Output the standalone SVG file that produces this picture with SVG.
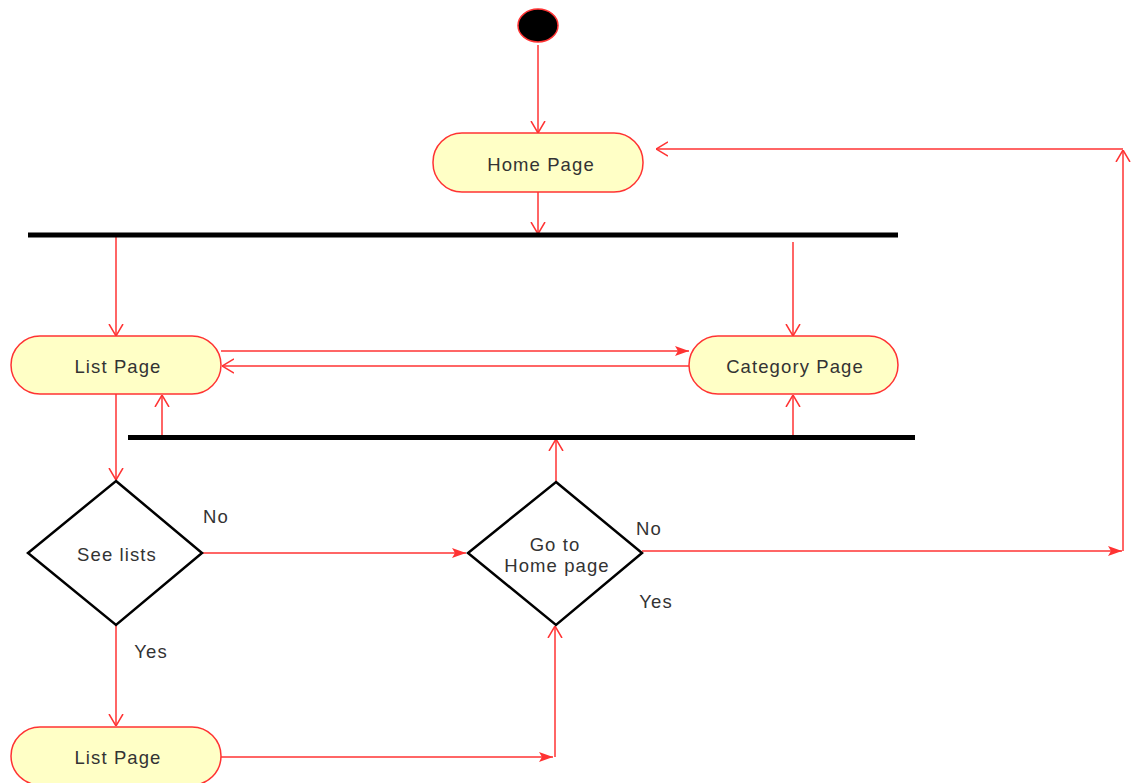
<svg xmlns="http://www.w3.org/2000/svg" width="1133" height="783" viewBox="0 0 1133 783">
<defs>
<style>
.node{fill:#ffffc6;stroke:#ff3333;stroke-width:1.5}
.dec{fill:#ffffff;stroke:#000000;stroke-width:2.5}
.bar{fill:#000000}
.lbl{font-family:"Liberation Sans",Arial,sans-serif;font-size:18.5px;letter-spacing:1.1px;fill:#333333;text-anchor:middle}
.e{fill:none;stroke:#ff3333;stroke-width:1.5}
.o{marker-end:url(#open)}
.f{marker-end:url(#fill)}
</style>
<marker id="open" viewBox="0 0 12 16" refX="12" refY="8" markerWidth="12" markerHeight="16" markerUnits="userSpaceOnUse" orient="auto">
<path d="M0,1 L12,8 L0,15" fill="none" stroke="#ff3333" stroke-width="1.5"/>
</marker>
<marker id="fill" viewBox="0 0 14 10" refX="14" refY="5" markerWidth="14" markerHeight="10" markerUnits="userSpaceOnUse" orient="auto">
<path d="M0,0 L14,5 L0,10 L3,5 Z" fill="#ff3333"/>
</marker>
</defs>
<rect width="1133" height="783" fill="#ffffff"/>
<g id="connectors">
<path class="e o" d="M538,45 L538,133"/>
<path class="e o" d="M538,192 L538,234"/>
<path class="e o" d="M116,236 L116,336"/>
<path class="e o" d="M793,242 L793,336"/>
<path class="e f" d="M221,351 L689,351"/>
<path class="e o" d="M689,366 L222,366"/>
<path class="e o" d="M162,436 L162,395"/>
<path class="e o" d="M793,436 L793,395"/>
<path class="e o" d="M116,394 L116,480"/>
<path class="e f" d="M202,553 L466,553"/>
<path class="e o" d="M556,482 L556,439"/>
<path class="e f" d="M642,551 L1122,551"/>
<path class="e o" d="M1123,551 L1123,150"/>
<path class="e o" d="M1123,149 L656,149"/>
<path class="e o" d="M116,625 L116,726"/>
<path class="e f" d="M221,757 L553,757"/>
<path class="e o" d="M555,757 L555,626"/>
</g>
<g id="start">
<ellipse cx="538" cy="25.5" rx="20" ry="16.5" fill="#000000" stroke="#ff3333" stroke-width="1.5"/>
</g>
<g id="home">
<rect class="node" x="433" y="133" width="210" height="59" rx="29"/>
<text class="lbl" x="541" y="171">Home Page</text>
</g>
<g id="fork1">
<rect class="bar" x="28" y="232.5" width="870" height="5"/>
</g>
<g id="list1">
<rect class="node" x="11" y="336" width="210" height="58" rx="29"/>
<text class="lbl" x="118" y="373">List Page</text>
</g>
<g id="category">
<rect class="node" x="689" y="336" width="209" height="58" rx="29"/>
<text class="lbl" x="795" y="373">Category Page</text>
</g>
<g id="join2">
<rect class="bar" x="128" y="435" width="787" height="5"/>
</g>
<g id="seelists">
<polygon class="dec" points="116,481 202,553 116,625 28,553"/>
<text class="lbl" x="117" y="561">See lists</text>
<text class="lbl" x="216" y="523">No</text>
<text class="lbl" x="151" y="658">Yes</text>
</g>
<g id="gohome">
<polygon class="dec" points="556,482 642,553 556,625 468,553"/>
<text class="lbl" x="555" y="551">Go to</text>
<text class="lbl" x="557" y="572">Home page</text>
<text class="lbl" x="649" y="535">No</text>
<text class="lbl" x="656" y="608">Yes</text>
</g>
<g id="list2">
<rect class="node" x="11" y="727" width="210" height="58" rx="29"/>
<text class="lbl" x="118" y="764">List Page</text>
</g>
</svg>
